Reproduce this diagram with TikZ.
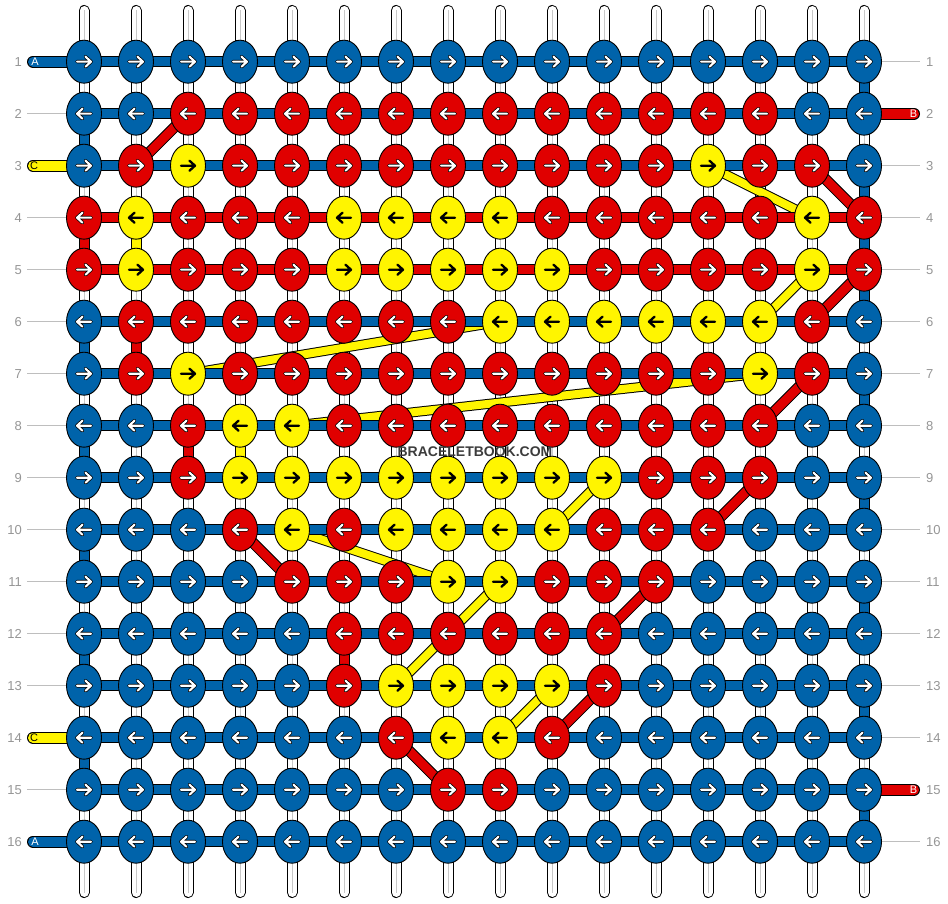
\documentclass[tikz,border=0pt]{standalone}
\usepackage{fontspec}
\setmainfont{Liberation Sans}
\usetikzlibrary{shapes.geometric}
\pgfdeclarelayer{strands}
\pgfdeclarelayer{diag}
\pgfdeclarelayer{rows}
\pgfsetlayers{strands,diag,rows,main}
\definecolor{kB}{RGB}{0,99,170}
\definecolor{kR}{RGB}{224,0,0}
\definecolor{kY}{RGB}{255,245,0}
\definecolor{lblgray}{RGB}{150,150,150}
\definecolor{linegray}{RGB}{190,190,190}
\definecolor{midgray}{RGB}{200,200,200}
\definecolor{wm}{RGB}{60,60,60}
\begin{document}
\begin{tikzpicture}[x=1pt,y=-1pt,
  knot/.style={ellipse, draw=black, line width=0.9pt, minimum width=35pt, minimum height=43pt, inner sep=0pt},
  arrW/.style={preaction={draw=black,line width=3.6pt,line cap=round,line join=round}, draw=white, line width=2.1pt, line cap=round, line join=round},
  arrB/.style={arrW}, arrR/.style={arrW},
  arrY/.style={draw=black, line width=2.3pt, line cap=round, line join=round},
  band/.style={preaction={draw=black,line width=11pt}, draw=#1, line width=9pt},
  diagband/.style={preaction={draw=black,line width=10pt}, draw=#1, line width=8pt},
  stub/.style={preaction={draw=black,line width=12pt,line cap=round}, draw=#1, line width=10pt, line cap=round},
  guide/.style={draw=linegray, line width=1pt},
  num/.style={text=lblgray, font=\fontsize{13}{15}\selectfont, inner sep=0pt},
  stubtext/.style={font=\fontsize{11}{13}\selectfont, inner sep=0pt},
]
\useasboundingbox (0,0) rectangle (948,904);

% knots and arrows
\foreach \r/\cols in {
 1/{B,B,B,B,B,B,B,B,B,B,B,B,B,B,B,B},
 2/{B,B,R,R,R,R,R,R,R,R,R,R,R,R,B,B},
 3/{B,R,Y,R,R,R,R,R,R,R,R,R,Y,R,R,B},
 4/{R,Y,R,R,R,Y,Y,Y,Y,R,R,R,R,R,Y,R},
 5/{R,Y,R,R,R,Y,Y,Y,Y,Y,R,R,R,R,Y,R},
 6/{B,R,R,R,R,R,R,R,Y,Y,Y,Y,Y,Y,R,B},
 7/{B,R,Y,R,R,R,R,R,R,R,R,R,R,Y,R,B},
 8/{B,B,R,Y,Y,R,R,R,R,R,R,R,R,R,B,B},
 9/{B,B,R,Y,Y,Y,Y,Y,Y,Y,Y,R,R,R,B,B},
 10/{B,B,B,R,Y,R,Y,Y,Y,Y,R,R,R,B,B,B},
 11/{B,B,B,B,R,R,R,Y,Y,R,R,R,B,B,B,B},
 12/{B,B,B,B,B,R,R,R,R,R,R,B,B,B,B,B},
 13/{B,B,B,B,B,R,Y,Y,Y,Y,R,B,B,B,B,B},
 14/{B,B,B,B,B,B,R,Y,Y,R,B,B,B,B,B,B},
 15/{B,B,B,B,B,B,B,R,R,B,B,B,B,B,B,B},
 16/{B,B,B,B,B,B,B,B,B,B,B,B,B,B,B,B}}{
  \pgfmathtruncatemacro\d{1-2*mod(\r+1,2)}
  \foreach \k [count=\c] in \cols {
    \node[knot, fill=k\k] (k-\r-\c) at ({84+52*(\c-1)},{61.7+52*(\r-1)}) {};
    \draw[arr\k, shift={(k-\r-\c.center)}, xscale=\d] (-7,0) -- (7,0) (1.5,-5) -- (7,0) -- (1.5,5);
  }
  \node[num, anchor=east] (ln-\r) at (22,{61.7+52*(\r-1)}) {\r};
  \node[num, anchor=west] (rn-\r) at (926,{61.7+52*(\r-1)}) {\r};
}

% white vertical strands and guide lines
\begin{pgfonlayer}{strands}
\fill[white] (0,0) rectangle (948,904);
\foreach \c in {1,...,16}{
  \coordinate (st-\c) at ({84+52*(\c-1)},10.5);
  \coordinate (sb-\c) at ({84+52*(\c-1)},892.5);
  \draw[black, line width=11pt, line cap=round] (st-\c) -- (sb-\c);
  \draw[white, line width=9pt, line cap=round] (st-\c) -- (sb-\c);
  \draw[midgray, line width=1pt] (st-\c) -- (sb-\c);
}
\foreach \r in {2,4,5,6,7,8,9,10,11,12,13,15}{
  \coordinate (lg-\r) at (27,{61.7+52*(\r-1)});
  \draw[guide] (lg-\r) -- (k-\r-1.center);
}
\foreach \r in {1,3,4,5,6,7,8,9,10,11,12,13,14,16}{
  \coordinate (rg-\r) at (920,{61.7+52*(\r-1)});
  \draw[guide] (k-\r-16.center) -- (rg-\r);
}
\end{pgfonlayer}

% diagonal strand paths
\begin{pgfonlayer}{diag}
\foreach \ra/\ca/\rb/\cb in {2/3/3/2, 3/15/4/16, 5/16/6/15, 7/15/8/14, 9/14/10/13, 10/4/11/5, 11/12/12/11, 13/11/14/10, 14/7/15/8}{
  \draw[diagband=kR, preaction={draw=black,line width=11pt}, line width=9pt] (k-\ra-\ca.center) -- (k-\rb-\cb.center);
}
\foreach \ra/\ca/\rb/\cb in {3/13/4/15, 5/15/6/14, 6/9/7/3, 7/14/8/5, 9/11/10/10, 10/5/11/8, 11/9/13/7, 13/10/14/9}{
  \draw[diagband=kY] (k-\ra-\ca.center) -- (k-\rb-\cb.center);
}
\end{pgfonlayer}

% row bands, edge turns and stubs
\begin{pgfonlayer}{rows}
\foreach \r/\col in {1/kB,2/kB,3/kB,4/kR,5/kR,6/kB,7/kB,8/kB,9/kB,10/kB,11/kB,12/kB,13/kB,14/kB,15/kB,16/kB}{
  \draw[band=\col] (k-\r-1.center) -- (k-\r-16.center);
}
\foreach \c/\ra/\rb/\col in {16/1/2/kB, 16/3/4/kB, 16/4/5/kB, 16/5/6/kB, 16/7/8/kB, 16/9/10/kB, 16/11/12/kB, 16/13/14/kB, 16/15/16/kB,
  1/2/3/kB, 1/4/5/kR, 1/6/7/kB, 1/8/9/kB, 1/10/11/kB, 1/12/13/kB, 1/14/15/kB,
  2/4/5/kY, 2/6/7/kR, 3/8/9/kR, 4/8/9/kY, 6/12/13/kR}{
  \draw[band=\col] (k-\ra-\c.center) -- (k-\rb-\c.center);
}
\foreach \r/\col in {1/kB,3/kY,14/kY,16/kB}{
  \coordinate (ls-\r) at (33,{61.7+52*(\r-1)});
  \draw[stub=\col] (ls-\r) -- (k-\r-1.center);
}
\foreach \r in {2,15}{
  \coordinate (rs-\r) at (914,{61.7+52*(\r-1)});
  \draw[stub=kR] (k-\r-16.center) -- (rs-\r);
}
\end{pgfonlayer}

% stub letters
\node[stubtext, text=white] (la-1) at (35,61.7) {A};
\node[stubtext, text=black] (lc-3) at (34,165.7) {C};
\node[stubtext, text=black] (lc-14) at (34,737.7) {C};
\node[stubtext, text=white] (la-16) at (35,841.7) {A};
\node[stubtext, text=white] (rb-2) at (913.5,113.7) {B};
\node[stubtext, text=white] (rb-15) at (913.5,789.7) {B};

% watermark
\node[text=wm, font=\bfseries\fontsize{14}{16}\selectfont, inner sep=0pt] (wmark) at (475,451.5) {BRACELETBOOK.COM};
\end{tikzpicture}
\end{document}
